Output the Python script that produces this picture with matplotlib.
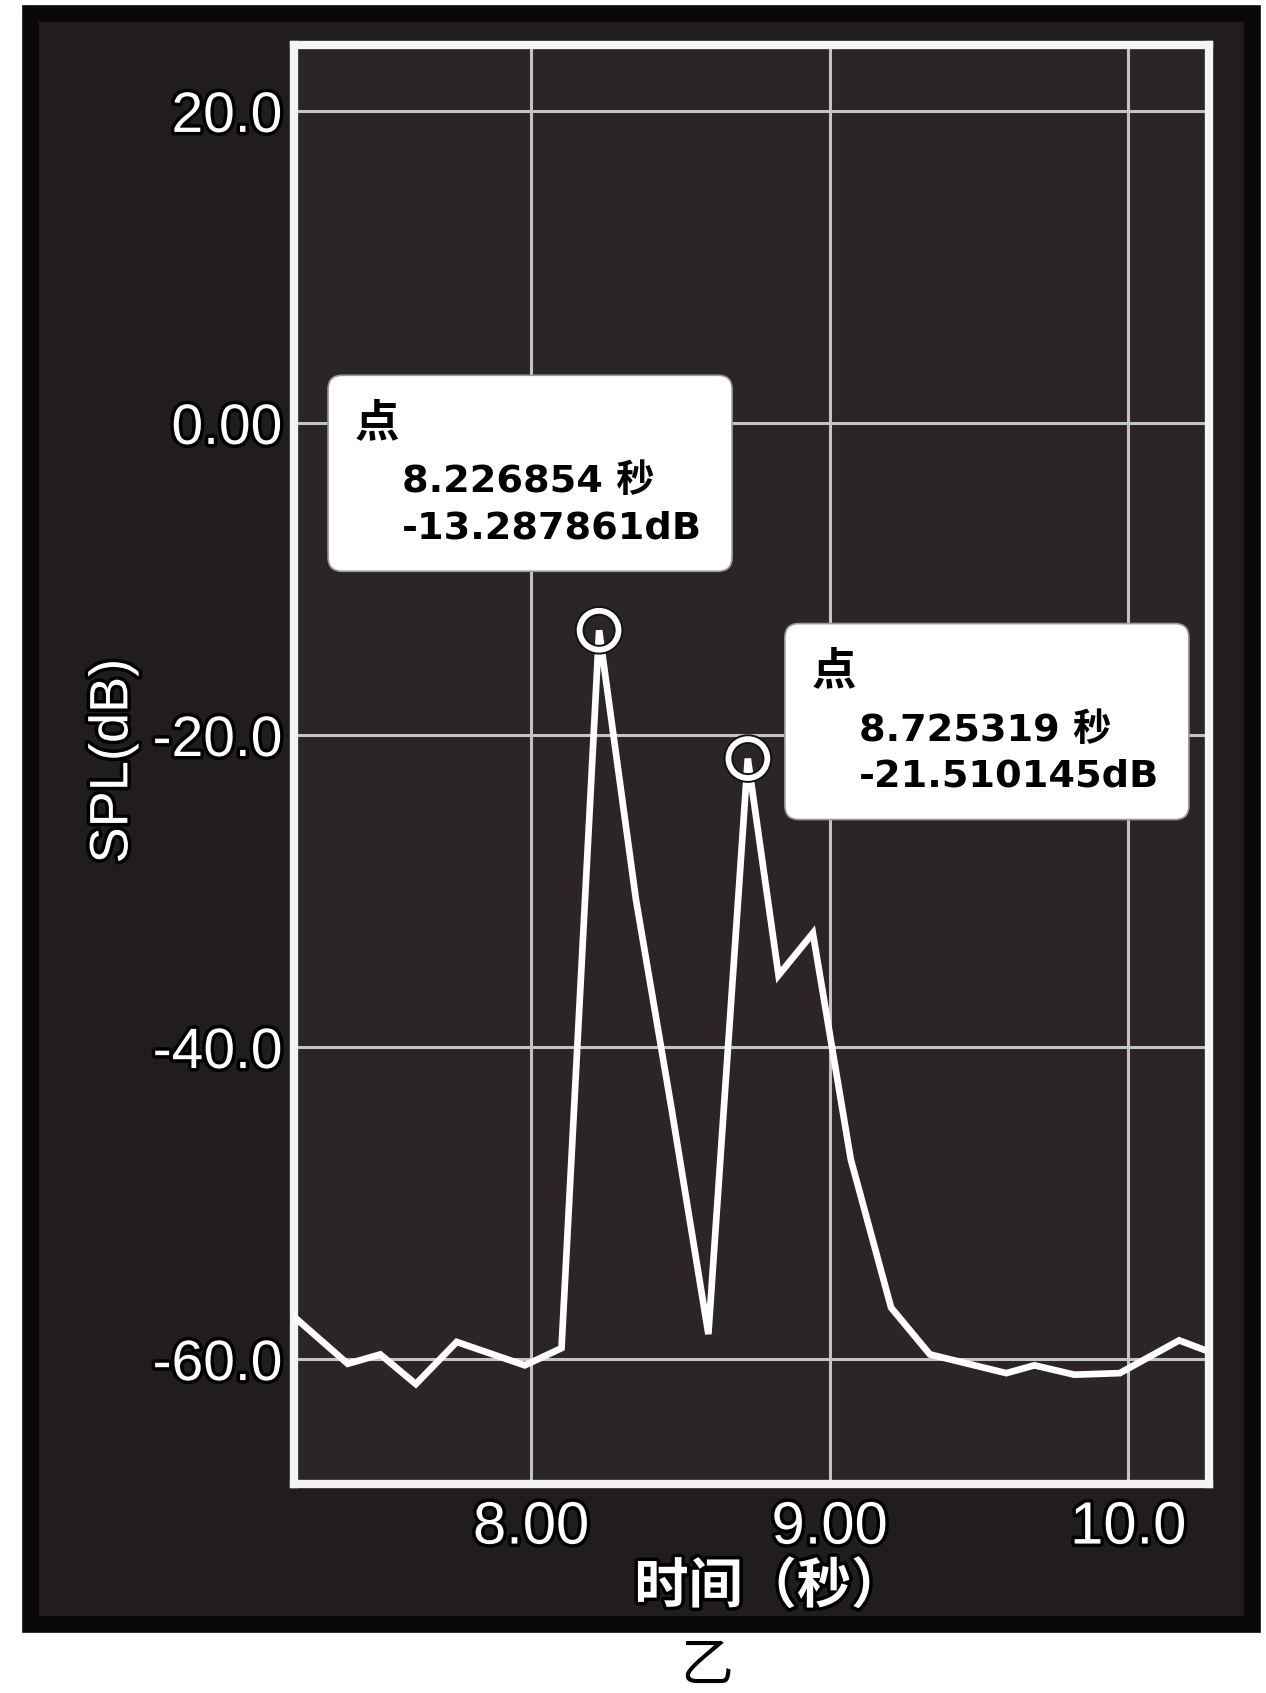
import numpy as np
import matplotlib
matplotlib.use("Agg")
import matplotlib.pyplot as plt
import matplotlib.patheffects as pe
from matplotlib.patches import Rectangle, FancyBboxPatch
from matplotlib.transforms import IdentityTransform

plt.rcParams['font.family'] = ['Liberation Sans', 'Noto Sans CJK SC', 'DejaVu Sans']

# SPL trace
time_s = [7.20, 7.385, 7.494, 7.613, 7.750, 7.978, 8.101, 8.227, 8.35, 8.47, 8.593,
          8.725, 8.828, 8.943, 9.070, 9.205, 9.335, 9.591, 9.685, 9.819, 9.971, 10.170, 10.253]
spl_db = [-57.2, -60.3, -59.7, -61.6, -58.9, -60.4, -59.3, -13.29, -30.5, -44.0, -58.4,
          -21.51, -35.4, -32.7, -47.2, -56.7, -59.7, -60.9, -60.4, -61.0, -60.9, -58.8, -59.4]

peak_t = [8.226854, 8.725319]
peak_db = [-13.287861, -21.510145]

xticks = [8.0, 9.0, 10.0]
xtick_labels = ['8.00', '9.00', '10.0']
yticks = [20, 0, -20, -40, -60]
ytick_labels = ['20.0', '0.00', '-20.0', '-40.0', '-60.0']

bg = '#2b2525'
glow = [pe.withStroke(linewidth=5, foreground='#000000')]

fig = plt.figure(figsize=(12.66, 16.93), dpi=100)
fig.patch.set_facecolor('white')
panel = Rectangle((0.0237, 0.0408), 0.965, 0.9515, transform=fig.transFigure,
                  facecolor='#221d1d', edgecolor='#0a0808', linewidth=12, zorder=-5)
fig.add_artist(panel)

ax = fig.add_axes([0.232, 0.1235, 0.723, 0.8497])
ax.set_zorder(2)
ax.set_facecolor(bg)
ax.set_xlim(7.204, 10.27)
ax.set_ylim(-68.0, 24.2)

ax.set_xticks(xticks)
ax.set_xticklabels(xtick_labels)
ax.set_yticks(yticks)
ax.set_yticklabels(ytick_labels)
ax.tick_params(axis='both', length=0, colors='white')
ax.tick_params(axis='x', labelsize=43, pad=12)
ax.tick_params(axis='y', labelsize=41, pad=8)
for lab in ax.get_xticklabels() + ax.get_yticklabels():
    lab.set_path_effects(glow)

ax.grid(True, color='#c4c4c4', linewidth=2.2)
ax.set_axisbelow(True)
for sp in ax.spines.values():
    sp.set_color('#f4f4f4')
    sp.set_linewidth(6)

ax.plot(time_s, spl_db, color='white', linewidth=4.8, solid_joinstyle='miter', zorder=3)
ax.plot(peak_t, peak_db, linestyle='none', marker='o', markersize=28, markerfacecolor='none',
        markeredgecolor='white', markeredgewidth=4.2, zorder=4,
        path_effects=[pe.withStroke(linewidth=7, foreground='#111111')])

# annotation boxes, placed in pixels relative to each marked peak
box_w, box_h = 404, 196
box_offsets = [(-271, 255), (37, 135)]   # top-left corner relative to the peak (y up)
body_font = ['DejaVu Sans', 'Noto Sans CJK SC']
for t, d, (dx, dy) in zip(peak_t, peak_db, box_offsets):
    px, py = ax.transData.transform((t, d))
    left, top = px + dx, py + dy
    box = FancyBboxPatch((left, top - box_h), box_w, box_h,
                         boxstyle='round,pad=0,rounding_size=14',
                         facecolor='white', edgecolor='#9a9a9a', linewidth=1.2,
                         transform=IdentityTransform(), zorder=6, clip_on=False)
    ax.add_artist(box)
    ax.text(left + 27, top - 48, '点', transform=IdentityTransform(), ha='left', va='center',
            fontsize=32, fontweight='bold', color='black', family='Noto Sans CJK SC', zorder=7)
    ax.text(left + 74, top - 117, '%.6f 秒' % t, transform=IdentityTransform(),
            ha='left', va='baseline', fontsize=27.5, fontweight='bold', color='black',
            family=body_font, zorder=7)
    ax.text(left + 74, top - 163, '%.6fdB' % d, transform=IdentityTransform(),
            ha='left', va='baseline', fontsize=27.5, fontweight='bold', color='black',
            family=body_font, zorder=7)

ax.set_ylabel('SPL(dB)', fontsize=39, color='white', va='center', path_effects=glow)
ax.yaxis.set_label_coords(-0.197, 0.5025)
ax.set_xlabel('时间（秒）', fontsize=39, fontweight='bold', color='white', va='center',
              path_effects=glow)
ax.xaxis.set_label_coords(0.52, -0.0722)

fig.text(0.5585, 0.0154, '乙', fontsize=38, color='black', ha='center', va='center')

fig.savefig('out.png', dpi=100, facecolor=fig.get_facecolor())
